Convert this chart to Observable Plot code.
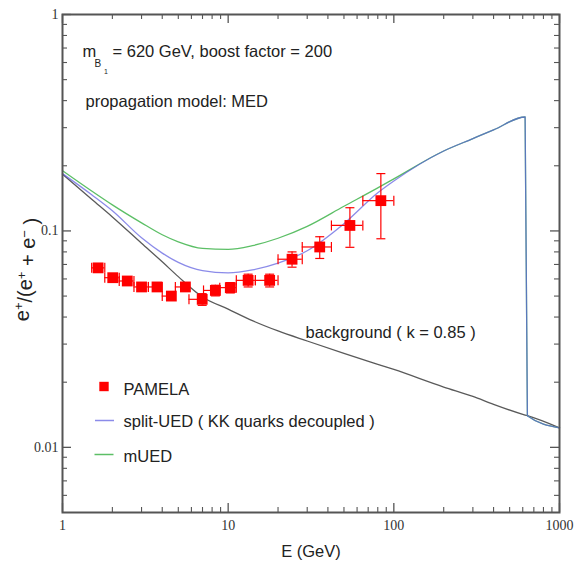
<!DOCTYPE html>
<html>
<head>
<meta charset="utf-8">
<script src="https://cdn.jsdelivr.net/npm/d3@7"></script>
<script src="https://cdn.jsdelivr.net/npm/@observablehq/plot@0.6"></script>
<style>
  html, body { margin: 0; padding: 0; background: #fff; }
  #chart { width: 574px; height: 566px; }
</style>
</head>
<body>
<div id="chart"></div>
<script>
// ---- data ----
const curveE = [1, 1.5, 2, 3, 4, 5, 7, 10, 14, 20, 30, 50, 80, 100, 200, 300, 400, 620, 640, 1000];
const backgroundV = [0.183, 0.140, 0.116, 0.0877, 0.072, 0.0615, 0.0495, 0.0435, 0.0385, 0.0345, 0.031, 0.0272, 0.0242, 0.0229, 0.019, 0.0172, 0.0158, 0.0141, 0.014, 0.0123];
const mUEDV = [0.19, 0.153, 0.132, 0.109, 0.096, 0.089, 0.083, 0.0822, 0.0855, 0.0925, 0.105, 0.130, 0.158, 0.174, 0.234, 0.267, 0.293, 0.336, 0.014, 0.0123];
const splitUEDV = [0.184, 0.147, 0.124, 0.093, 0.079, 0.0715, 0.0655, 0.064, 0.066, 0.071, 0.081, 0.108, 0.150, 0.170, 0.234, 0.267, 0.293, 0.336, 0.014, 0.0123];

const pamelaE = [1.64, 2.01, 2.46, 3.0, 3.72, 4.54, 5.52, 6.97, 8.37, 10.3, 13.2, 17.8, 24.3, 35.7, 54.3, 83.5];
const pamelaV = [0.0675, 0.0608, 0.0587, 0.0551, 0.0551, 0.050, 0.0551, 0.0483, 0.0531, 0.0547, 0.0591, 0.0591, 0.074, 0.0843, 0.106, 0.138];
const pamelaErr = [0.002, 0.002, 0.002, 0.002, 0.002, 0.002, 0.0025, 0.003, 0.003, 0.003, 0.004, 0.004, 0.006, 0.0097, 0.022, 0.046];
const binLo = [1.5, 1.8, 2.2, 2.7, 3.3, 4.0, 4.8, 5.8, 7.1, 8.9, 11.2, 14.6, 20, 28, 42, 65];
const binHi = [1.8, 2.2, 2.7, 3.3, 4.0, 4.8, 5.8, 7.1, 8.9, 11.2, 14.6, 20, 28, 42, 65, 100];

const xMajor = [1, 10, 100, 1000];
const xMinor = [2, 3, 4, 5, 6, 7, 8, 9, 20, 30, 40, 50, 60, 70, 80, 90, 200, 300, 400, 500, 600, 700, 800, 900];
const yMajor = [0.01, 0.1, 1];
const yMinor = [0.006, 0.007, 0.008, 0.009, 0.02, 0.03, 0.04, 0.05, 0.06, 0.07, 0.08, 0.09, 0.2, 0.3, 0.4, 0.5, 0.6, 0.7, 0.8, 0.9];
const xTickLabels = ["1", "10", "100", "1000"];
const yTickLabels = ["0.01", "0.1", "1"];

// ---- build tables ----
const curves = curveE.map((e, i) => ({e, bg: backgroundV[i], m: mUEDV[i], s: splitUEDV[i]}));
const pamela = pamelaE.map((e, i) => ({e, v: pamelaV[i], lo: binLo[i], hi: binHi[i], vlo: pamelaV[i] - pamelaErr[i], vhi: pamelaV[i] + pamelaErr[i]}));

const W = 574, H = 566;
const mL = 62, mR = 15, mT = 14, mB = 54;
const iW = W - mL - mR, iH = H - mT - mB;
const sans = "Liberation Sans, Arial, sans-serif";
const serif = "Liberation Serif, Times New Roman, serif";
const axisCol = "#555";
const red = "#ff0000";
const blue = "#5a5ae0";
const green = "#5cbf66";

const vline = {draw(ctx, size) { const r = Math.sqrt(size / Math.PI); ctx.moveTo(0, -r); ctx.lineTo(0, r); }};
const hline = {draw(ctx, size) { const r = Math.sqrt(size / Math.PI); ctx.moveTo(-r, 0); ctx.lineTo(r, 0); }};

const fs = 16.5;
const T = (s, dx, dy, size = fs) => Plot.text([s], {frameAnchor: "top-left", dx, dy, textAnchor: "start", lineAnchor: "middle", fontSize: size, fill: "#222"});

const chart = Plot.plot({
  width: W, height: H,
  marginLeft: mL, marginRight: mR, marginTop: mT, marginBottom: mB,
  style: {fontFamily: sans, background: "#fff"},
  x: {type: "log", domain: [1, 1000]},
  y: {type: "log", domain: [0.005, 1]},
  marks: [
    // tick labels
    Plot.axisX(xMajor, {tickSize: 0, tickPadding: 8, tickFormat: d => xTickLabels[xMajor.indexOf(d)], fontFamily: serif, fontSize: 14, fill: "#333", label: null}),
    Plot.axisY(yMajor, {tickSize: 0, tickPadding: 4, tickFormat: d => yTickLabels[yMajor.indexOf(d)], fontFamily: serif, fontSize: 14, fill: "#333", label: null}),
    // inward ticks, all four sides
    Plot.tickX(xMajor, {x: d => d, insetTop: iH - 9, stroke: axisCol, strokeWidth: 1.3}),
    Plot.tickX(xMinor, {x: d => d, insetTop: iH - 5, stroke: axisCol, strokeWidth: 1.1}),
    Plot.tickX(xMajor, {x: d => d, insetBottom: iH - 9, stroke: axisCol, strokeWidth: 1.3}),
    Plot.tickX(xMinor, {x: d => d, insetBottom: iH - 5, stroke: axisCol, strokeWidth: 1.1}),
    Plot.tickY(yMajor, {y: d => d, insetRight: iW - 9, stroke: axisCol, strokeWidth: 1.3}),
    Plot.tickY(yMinor, {y: d => d, insetRight: iW - 5, stroke: axisCol, strokeWidth: 1.1}),
    Plot.tickY(yMajor, {y: d => d, insetLeft: iW - 9, stroke: axisCol, strokeWidth: 1.3}),
    Plot.tickY(yMinor, {y: d => d, insetLeft: iW - 5, stroke: axisCol, strokeWidth: 1.1}),
    // curves
    Plot.line(curves, {x: "e", y: "bg", stroke: "#5a5a5a", strokeWidth: 1.3, curve: "monotone-x"}),
    Plot.line(curves, {x: "e", y: "m", stroke: green, strokeWidth: 1.3, curve: "monotone-x"}),
    Plot.line(curves, {x: "e", y: "s", stroke: blue, strokeOpacity: 0.7, strokeWidth: 1.3, curve: "monotone-x"}),
    // PAMELA error bars
    Plot.ruleY(pamela, {y: "v", x1: "lo", x2: "hi", stroke: red, strokeWidth: 1.2}),
    Plot.ruleX(pamela, {x: "e", y1: "vlo", y2: "vhi", stroke: red, strokeWidth: 1.2}),
    Plot.dot(pamela, {x: "lo", y: "v", symbol: vline, r: 5, stroke: red, strokeWidth: 1.2}),
    Plot.dot(pamela, {x: "hi", y: "v", symbol: vline, r: 5, stroke: red, strokeWidth: 1.2}),
    Plot.dot(pamela, {x: "e", y: "vlo", symbol: hline, r: 4.5, stroke: red, strokeWidth: 1.2}),
    Plot.dot(pamela, {x: "e", y: "vhi", symbol: hline, r: 4.5, stroke: red, strokeWidth: 1.2}),
    Plot.dot(pamela, {x: "e", y: "v", symbol: "square", r: 6.1, fill: red, stroke: "none"}),
    // frame
    Plot.frame({stroke: axisCol, strokeWidth: 2}),
    // annotations
    T("m", 20, 37.7),
    T("B", 32, 49.5, 10),
    T("1", 41.5, 57, 7),
    T("= 620 GeV, boost factor = 200", 50, 37.7),
    T("propagation model: MED", 23, 87.7),
    T("background ( k = 0.85 )", 243, 318.7),
    // legend
    Plot.dot([0], {frameAnchor: "top-left", dx: 41.5, dy: 372, symbol: "square", r: 5.3, fill: red}),
    T("PAMELA", 61, 375.7),
    Plot.dot([0], {frameAnchor: "top-left", dx: 42, dy: 406, symbol: hline, r: 9.5, stroke: blue, strokeOpacity: 0.7, strokeWidth: 1.5}),
    T("split-UED ( KK quarks decoupled )", 61, 407.7),
    Plot.dot([0], {frameAnchor: "top-left", dx: 41.5, dy: 440, symbol: hline, r: 9.5, stroke: green, strokeWidth: 1.5}),
    T("mUED", 61, 442.7),
    // axis titles
    Plot.text(["E (GeV)"], {frameAnchor: "bottom", dy: 39.7, textAnchor: "middle", lineAnchor: "middle", fontSize: 16.5, fill: "#222"}),
    Plot.text(["e+/(e+ + e- )"], {frameAnchor: "left", dx: -40, dy: 6, rotate: -90, textAnchor: "middle", lineAnchor: "middle", fontSize: 20, fill: "#222", className: "ylabel"})
  ]
});
document.getElementById("chart").appendChild(chart);

// superscripts in the y-axis title
d3.select(chart).selectAll(".ylabel text").each(function () {
  const t = d3.select(this);
  t.text(null);
  const parts = [["e", 0], ["+", 1], ["/(e", 0], ["+", 1], [" + e", 0], ["\u2212", 1], [" )", 0]];
  let up = false;
  for (const [s, sup] of parts) {
    const ts = t.append("tspan").text(s);
    if (sup && !up) { ts.attr("dy", "-0.45em").attr("font-size", 13); up = true; }
    else if (!sup && up) { ts.attr("dy", "0.45em"); up = false; }
    else if (sup) { ts.attr("font-size", 13); }
  }
});
</script>
</body>
</html>
